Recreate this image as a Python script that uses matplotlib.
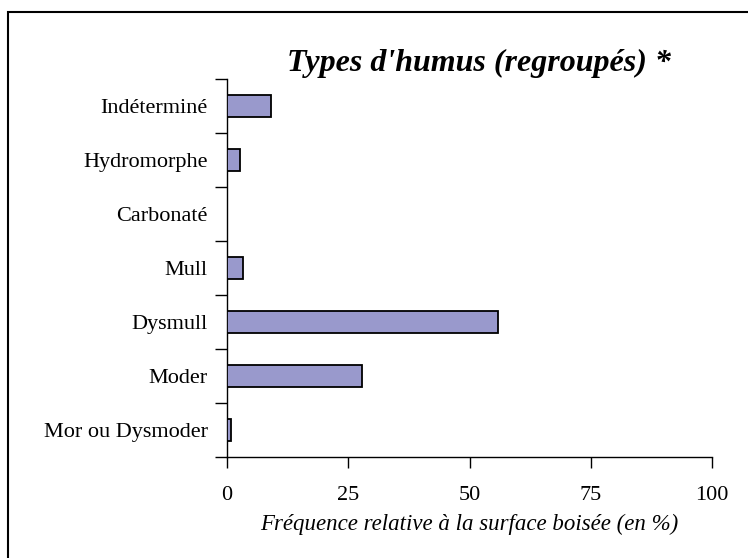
import matplotlib
matplotlib.use("Agg")
import matplotlib.pyplot as plt
from matplotlib.patches import Rectangle
import numpy as np

categories = ["Mor ou Dysmoder", "Moder", "Dysmull", "Mull", "Carbonaté", "Hydromorphe", "Indéterminé"]
values = [0.8, 27.8, 55.9, 3.2, 0.0, 2.7, 9.0]
xticks = [0, 25, 50, 75, 100]
title = "Types d'humus (regroupés) *"
xlabel = "Fréquence relative à la surface boisée (en %)"

plt.rcParams['font.family'] = ['Liberation Serif', 'DejaVu Serif']

fig = plt.figure(figsize=(7.48, 5.58), dpi=100)
W, H = 748, 558
ax = fig.add_axes([227 / W, 1 - 457 / H, (712 - 227) / W, (457 - 79) / H])

y = np.arange(len(categories))
ax.barh(y, values, height=0.41, color='#9999cc', edgecolor='black', linewidth=1.3, zorder=3)

ax.set_xlim(0, 100)
ax.set_ylim(-0.5, len(categories) - 0.5)
ax.set_xticks(xticks)
ax.set_xticklabels([str(t) for t in xticks], fontsize=16)
ax.set_yticks(y)
ax.set_yticklabels(categories, fontsize=16)
ax.set_yticks(np.arange(-0.5, len(categories), 1.0), minor=True)
ax.tick_params(axis='y', which='major', length=0, pad=14)
ax.tick_params(axis='y', which='minor', length=9, width=1, direction='out')
ax.tick_params(axis='x', which='major', length=8, width=1, direction='out', pad=13)

for s in ['top', 'right']:
    ax.spines[s].set_visible(False)
for s in ['left', 'bottom']:
    ax.spines[s].set_linewidth(1)

ax.set_xlabel(xlabel, fontsize=16.5, style='italic', labelpad=6)

fig.text(479 / W, 1 - 63 / H, title, fontsize=23, fontweight='bold', style='italic',
         ha='center', va='center')

fig.patches.append(Rectangle((8 / W, -0.05), 1.2, 1 - 12 / H + 0.05, transform=fig.transFigure,
                             fill=False, edgecolor='black', linewidth=1.5))

fig.savefig("out.png", dpi=100)
